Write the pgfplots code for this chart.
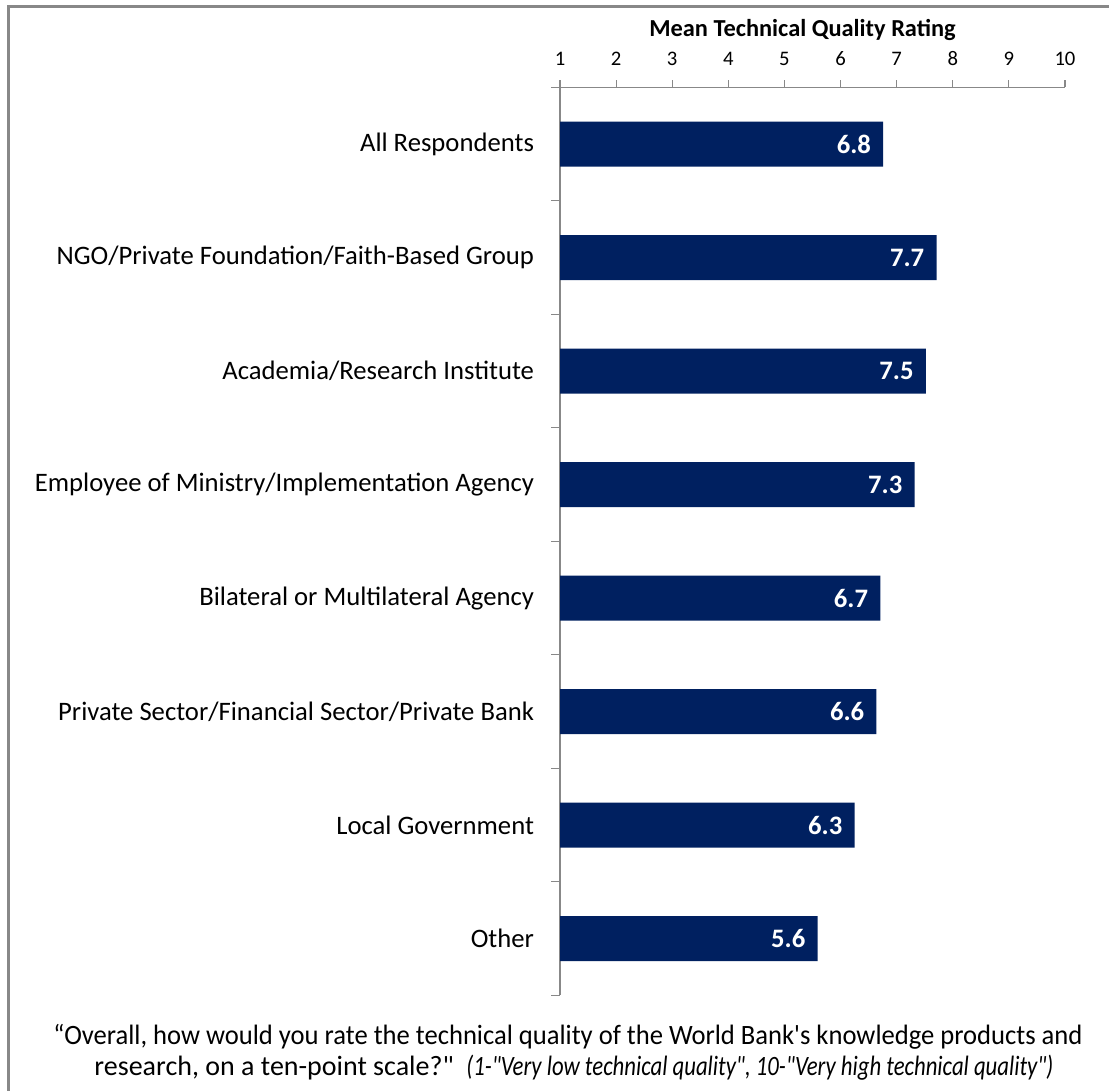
\documentclass[border=0pt]{standalone}
\usepackage{pgfplots}
\pgfplotsset{compat=1.18}
\usepackage{fontspec}
\setmainfont{Carlito}
\usepackage{graphicx}
\definecolor{barblue}{HTML}{002060}
\definecolor{axgray}{HTML}{888888}
\newlength{\plainw}
\newlength{\itw}
\newcommand{\plaintext}{research, on a ten-point scale?\textquotedbl\ \ }
\newcommand{\fnfont}{\fontsize{21}{24}\selectfont}
\begin{document}
\settowidth{\plainw}{\fnfont\plaintext}%
\setlength{\itw}{719.25pt}%
\addtolength{\itw}{-\plainw}%
\begin{tikzpicture}[x=0.75pt,y=-0.75pt]
\useasboundingbox (0,0) rectangle (1109,1090);
\draw[axgray, line width=2.2pt] (8.5,1100) -- (8.5,6.5) -- (1120,6.5);
\begin{axis}[
  at={(420pt,-65.5pt)}, anchor=north west,
  scale only axis, width=378.75pt, height=681pt,
  xbar, bar width=33.75pt,
  xmin=1, xmax=10, ymin=-0.5, ymax=7.5, y dir=reverse,
  axis x line*=top, axis y line*=left,
  axis line style={axgray, line width=0.8pt},
  tick style={axgray, line width=0.8pt},
  tick align=outside, major tick length=5.5pt, minor tick length=6.5pt,
  xtick={1,...,10},
  /pgf/number format/assume math mode=true,
  xticklabel style={font=\fontsize{15.5}{18}\selectfont, text=black, yshift=7.5pt},
  ytick={0,...,7},
  minor ytick={-0.5,0.5,...,7.5},
  every major y tick/.append style={draw=none},
  yticklabels={All Respondents, NGO/Private Foundation/Faith-Based Group, Academia/Research Institute, Employee of Ministry/Implementation Agency, Bilateral or Multilateral Agency, Private Sector/Financial Sector/Private Bank, Local Government, Other},
  yticklabel style={font=\fontsize{20}{22}\selectfont, text=black, xshift=-10.5pt},
  title={\textbf{Mean Technical Quality Rating}},
  title style={font=\fontsize{18.3}{20}\selectfont, at={(0.5,1)}, anchor=center, yshift=37pt, xshift=-7.5pt},
  point meta=explicit symbolic,
  nodes near coords,
  nodes near coords style={anchor=east, inner sep=0pt, xshift=-9pt, text=white, font=\bfseries\fontsize{20}{22}\selectfont},
  clip=true,
]
\addplot[fill=barblue, draw=none] table[x=v, y=i, meta=l]{
v i l
6.76 0 6.8
7.71 1 7.7
7.52 2 7.5
7.32 3 7.3
6.71 4 6.7
6.64 5 6.6
6.25 6 6.3
5.59 7 5.6
};
\end{axis}
\node[font=\fnfont, anchor=base, inner sep=0pt] at (568,1044) {\resizebox{771.75pt}{\height}{“Overall, how would you rate the technical quality of the World Bank\textquotesingle s knowledge products and}};
\node[font=\fnfont, anchor=base, inner sep=0pt] at (574,1075) {\plaintext\resizebox{\itw}{\height}{\textit{(1-\textquotedbl Very low technical quality\textquotedbl, 10-\textquotedbl Very high technical quality\textquotedbl)}}};
\end{tikzpicture}
\end{document}
